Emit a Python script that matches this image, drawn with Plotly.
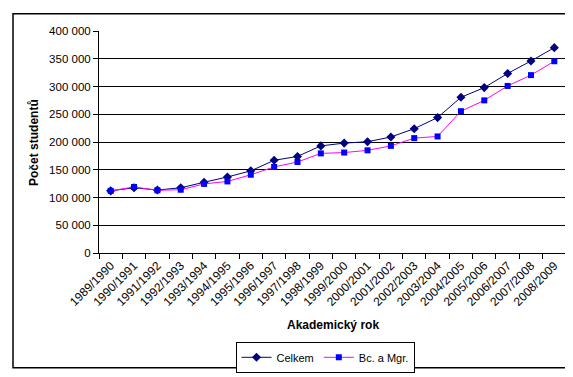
import plotly.graph_objects as go

years = ["1989/1990", "1990/1991", "1991/1992", "1992/1993", "1993/1994", "1994/1995",
         "1995/1996", "1996/1997", "1997/1998", "1998/1999", "1999/2000", "2000/2001",
         "2001/2002", "2002/2003", "2003/2004", "2004/2005", "2005/2006", "2006/2007",
         "2007/2008", "2008/2009"]
celkem = [112000, 117500, 113500, 117500, 127500, 137000, 148000, 167000, 174000, 193000,
          198000, 200500, 209000, 224000, 244000, 280500, 298000, 323500, 346000, 370000]
bc_mgr = [112000, 119000, 113000, 114000, 124500, 129000, 141000, 155000, 164000, 179500,
          181000, 185000, 193000, 207000, 210000, 255500, 275000, 301000, 320500, 345500]
y_ticks = [0, 50000, 100000, 150000, 200000, 250000, 300000, 350000, 400000]
y_tick_labels = ["0", "50 000", "100 000", "150 000", "200 000", "250 000", "300 000",
                 "350 000", "400 000"]

FONT = "Arial, Liberation Sans, sans-serif"
W, H = 573, 377
L, R, T, B = 91, 15, 23, 124
pw, ph = W - L - R, H - T - B

fig = go.Figure()
fig.add_trace(go.Scatter(
    x=years, y=celkem, name="Celkem", mode="lines+markers",
    line=dict(color="#000080", width=1),
    marker=dict(symbol="diamond", size=7, color="#000080"),
))
fig.add_trace(go.Scatter(
    x=years, y=bc_mgr, name="Bc. a Mgr.", mode="lines+markers",
    line=dict(color="#FF00FF", width=1),
    marker=dict(symbol="square", size=6, color="#0000FF"),
))

def px_x(p):
    return (p - L) / pw

def px_y(p):
    return (H - B - p) / ph

fig.add_shape(type="rect", xref="paper", yref="paper",
              x0=px_x(5), x1=px_x(563), y0=px_y(372), y1=px_y(5),
              line=dict(color="black", width=1.5), fillcolor="rgba(0,0,0,0)", layer="below")

fig.add_annotation(text="<b>Akademický rok</b>", xref="paper", yref="paper",
                   x=px_x(325), y=px_y(328), xanchor="center", yanchor="middle",
                   showarrow=False, font=dict(family=FONT, size=12, color="black"))
fig.add_annotation(text="<b>Počet studentů</b>", xref="paper", yref="paper",
                   x=px_x(26), y=px_y(139), xanchor="center", yanchor="middle",
                   textangle=-90, showarrow=False,
                   font=dict(family=FONT, size=12, color="black"))

fig.update_layout(
    width=W, height=H,
    margin=dict(l=L, r=R, t=T, b=B),
    paper_bgcolor="white", plot_bgcolor="white",
    font=dict(family=FONT, size=11, color="black"),
    showlegend=True,
    legend=dict(
        orientation="h", x=px_x(317), xanchor="center", y=px_y(345), yanchor="top",
        bordercolor="black", borderwidth=1, bgcolor="white",
        font=dict(family=FONT, size=11, color="black"),
        itemwidth=30, tracegroupgap=0,
    ),
    xaxis=dict(
        type="category", tickangle=-45, tickson="boundaries",
        ticks="outside", ticklen=5, tickcolor="black",
        showline=True, linecolor="black", linewidth=1,
        showgrid=False, zeroline=False,
        tickfont=dict(family=FONT, size=12),
        range=[-0.5, len(years) - 0.5],
    ),
    yaxis=dict(
        range=[0, 400000], tickvals=y_ticks, ticktext=y_tick_labels,
        ticks="outside", ticklen=5, tickcolor="black",
        showline=True, linecolor="black", linewidth=1,
        showgrid=True, gridcolor="black", gridwidth=1, zeroline=False,
        tickfont=dict(family=FONT, size=11.5),
    ),
)

fig.write_html("out.html")
